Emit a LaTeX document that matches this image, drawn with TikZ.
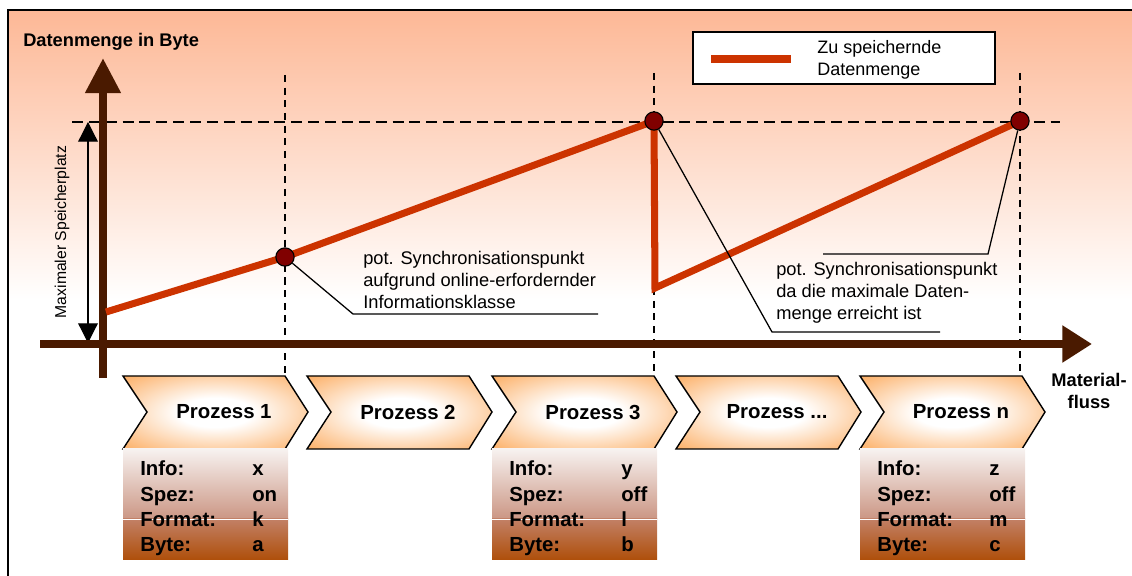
\documentclass[tikz,border=0pt]{standalone}
\usepackage{fontspec}
\setmainfont{Liberation Sans}
\usetikzlibrary{arrows.meta}

\definecolor{axisbrown}{RGB}{74,26,0}
\definecolor{dataorange}{RGB}{204,51,0}
\definecolor{dotred}{RGB}{128,0,0}
\definecolor{bgpeach}{RGB}{253,184,150}
\definecolor{procorange}{RGB}{252,176,104}
\definecolor{tabtop}{RGB}{247,242,240}
\definecolor{tabmid}{RGB}{203,150,132}
\definecolor{tablow}{RGB}{194,128,102}
\definecolor{tabbottom}{RGB}{175,80,12}

\pgfdeclareradialshading{chevglow}{\pgfpoint{0bp}{0bp}}{color(0bp)=(white); color(10bp)=(white); color(35bp)=(procorange); color(50bp)=(procorange)}

\tikzset{
    flowaxis/.style={line width=6pt, axisbrown},
    guideline/.style={dash pattern=on 7.8pt off 4.2pt, line width=1.1pt},
    stepline/.style={dash pattern=on 5pt off 4pt, line width=1.1pt},
    dataline/.style={line width=5pt, dataorange},
    syncpt/.style={circle, draw=black, fill=dotred, line width=0.8pt, minimum size=13pt, inner sep=0pt},
    note/.style={align=left, anchor=west, inner sep=0pt, font=\fontsize{13}{15.6}\selectfont},
    lead/.style={line width=0.9pt},
    chevtext/.style={font=\fontsize{14.5}{17}\selectfont\bfseries},
    tabtext/.style={anchor=base west, inner sep=0pt, font=\fontsize{14.5}{17}\selectfont\bfseries}
}

\begin{document}
\begin{tikzpicture}[x=0.025cm, y=-0.025cm]
    \useasboundingbox (0,0) rectangle (1132,576);

    \shade[top color=bgpeach, bottom color=white] (8,10) rectangle (1132,300);
    \draw[line width=1pt] (8,576) -- (8,10) -- (1132,10);

    \node[anchor=west, inner sep=0pt, font=\fontsize{13}{15.6}\selectfont\bfseries] (ytitle) at (23,42) {Datenmenge in Byte};

    % legend
    \node[draw=black, fill=white, line width=0.9pt, minimum width=302*0.025cm, minimum height=52*0.025cm, inner sep=0pt] (legend) at (844,58) {};
    \draw[dataline] (711,59) -- (791,59);
    \node[note, font=\fontsize{12.8}{15.6}\selectfont] (legtext) at (817,60) {Zu speichernde\\Datenmenge};

    % helper lines
    \draw[guideline] (72,122) -- (1060,122);
    \draw[stepline] (285,75) -- (285,376);
    \draw[stepline] (654,73) -- (654,376);
    \draw[stepline] (1020,73) -- (1020,376);

    \draw[{Triangle[length=14pt,width=14pt]}-{Triangle[length=14pt,width=14pt]}, line width=0.9pt] (88,343) -- (88,122);
    \node[rotate=90, inner sep=0pt, font=\fontsize{11.2}{13}\selectfont] (maxlabel) at (62,232) {Maximaler Speicherplatz};

    % axes
    \draw[flowaxis, -{Triangle[length=25pt,width=24pt]}] (103,378) -- (103,58);
    \draw[flowaxis, -{Triangle[length=21pt,width=25pt]}] (40,344) -- (1092,344);
    \node[align=center, font=\fontsize{13}{15}\selectfont\bfseries] (flow) at (1089,391) {Material-\\fluss};

    % data amount
    \coordinate (s0) at (106,312);
    \coordinate (c1) at (285,257);
    \coordinate (c2) at (654,121);
    \coordinate (drop) at (655,288);
    \coordinate (c3) at (1020,121);
    \draw[dataline] (s0) -- (c1) -- (c2) -- (drop) -- (c3);
    \node[syncpt] (d1) at (c1) {};
    \node[syncpt] (d2) at (c2) {};
    \node[syncpt] (d3) at (c3) {};

    % callouts
    \coordinate (k1) at (353,314);
    \coordinate (e1) at (598,314);
    \coordinate (k2) at (772,332);
    \coordinate (e2) at (940,332);
    \coordinate (k3) at (988,254);
    \coordinate (e3) at (823,254);
    \draw[lead] (d1) -- (k1) -- (e1);
    \draw[lead] (d2) -- (k2) -- (e2);
    \draw[lead] (d3) -- (k3) -- (e3);
    \node[note] (n1) at (363,280) {pot. Synchronisationspunkt\\aufgrund online-erfordernder\\Informationsklasse};
    \node[note] (n2) at (776,293) {pot. Synchronisationspunkt\\da die maximale Daten-\\menge erreicht ist};

    % process chain
    \foreach \sx/\txt [count=\i] in {123/{Prozess 1}, 307/{Prozess 2}, 492/{Prozess 3}, 676/{Prozess ...}, 860/{Prozess n}}{
        \shade[shading=chevglow] (\sx,376) -- (\sx+162,376) -- (\sx+185,412) -- (\sx+162,449) -- (\sx,449) -- (\sx+24,412) -- cycle;
        \draw[line width=1pt, line join=miter] (\sx,376) -- (\sx+162,376) -- (\sx+185,412) -- (\sx+162,449) -- (\sx,449) -- (\sx+24,412) -- cycle;
        \node[chevtext] (p\i) at (\sx+101,412) {\txt};
    }

    % information tables
    \foreach \sx/\va/\vb/\vc/\vd [count=\i] in {123/x/on/k/a, 492/y/off/l/b, 860/z/off/m/c}{
        \shade[top color=tabtop, bottom color=tabmid] (\sx,449) rectangle (\sx+165,519);
        \shade[top color=tablow, bottom color=tabbottom] (\sx,519) rectangle (\sx+165,559);
        \draw[white, line width=0.7pt] (\sx,519) -- (\sx+165,519);
        \node[tabtext] (info\i) at (\sx+17,476) {Info:};
        \node[tabtext] (spez\i) at (\sx+17,501) {Spez:};
        \node[tabtext] (form\i) at (\sx+17,526) {Format:};
        \node[tabtext] (byte\i) at (\sx+17,551) {Byte:};
        \node[tabtext] (info\i v) at (\sx+129,476) {\va};
        \node[tabtext] (spez\i v) at (\sx+129,501) {\vb};
        \node[tabtext] (form\i v) at (\sx+129,526) {\vc};
        \node[tabtext] (byte\i v) at (\sx+129,551) {\vd};
    }
\end{tikzpicture}
\end{document}
